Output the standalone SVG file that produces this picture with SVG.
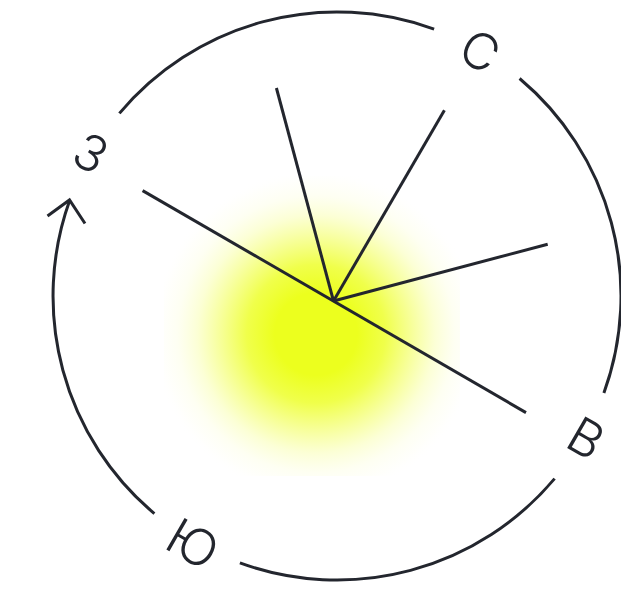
<svg xmlns="http://www.w3.org/2000/svg" width="621" height="592" viewBox="0 0 621 592">
  <style>
    .ln { fill: none; stroke: #23262e; stroke-width: 3; stroke-linecap: butt; stroke-linejoin: miter; }
    .lbl { font-family: Inter, "Liberation Sans", sans-serif; font-weight: 300; font-size: 50px; fill: #23262e; text-anchor: middle; }
  </style>
  <defs>
    <radialGradient id="glow" gradientUnits="userSpaceOnUse" cx="316" cy="334" r="165">
      <stop offset="0" stop-color="#ECFF1E" stop-opacity="1"/>
      <stop offset="0.25" stop-color="#ECFF1E" stop-opacity="1"/>
      <stop offset="0.42" stop-color="#ECFF1E" stop-opacity="0.8"/>
      <stop offset="0.57" stop-color="#EEFF2A" stop-opacity="0.5"/>
      <stop offset="0.72" stop-color="#F0FF40" stop-opacity="0.22"/>
      <stop offset="0.84" stop-color="#F2FF60" stop-opacity="0.08"/>
      <stop offset="0.93" stop-color="#F5FF80" stop-opacity="0.03"/>
      <stop offset="1" stop-color="#FFFFFF" stop-opacity="0"/>
    </radialGradient>
  </defs>
  <rect width="621" height="592" fill="#FFFFFF"/>
  <g id="glow-spot">
    <rect x="164" y="176" width="296" height="300" fill="url(#glow)"/>
  </g>
  <g id="connectors">
    <path class="ln" d="M119.4 113.4 A284 284 0 0 1 434.1 29.1"/>
    <path class="ln" d="M519.6 78.5 A284 284 0 0 1 603.9 393.1"/>
    <path class="ln" d="M554.6 478.6 A284 284 0 0 1 239.9 562.9"/>
    <path class="ln" d="M154.4 513.6 A284 284 0 0 1 69.8 200"/>
    <polyline class="ln" points="47.5,216 69.5,200 85,223.5"/>
  </g>
  <g id="rays">
    <line class="ln" x1="142.6" y1="190.6" x2="526" y2="412.6"/>
    <line class="ln" x1="333.5" y1="301" x2="276.4" y2="88"/>
    <line class="ln" x1="333.5" y1="301" x2="444.4" y2="110.2"/>
    <line class="ln" x1="333.5" y1="301" x2="547.7" y2="244.2"/>
  </g>
  <g id="label-north" transform="translate(480 51) rotate(30)">
    <text class="lbl" x="0" y="18">С</text>
  </g>
  <g id="label-east" transform="translate(586 438) rotate(30)">
    <text class="lbl" x="0" y="18">В</text>
  </g>
  <g id="label-south" transform="translate(193 544) rotate(30)">
    <text class="lbl" x="0" y="18">Ю</text>
  </g>
  <g id="label-west" transform="translate(91 153) rotate(30)">
    <text class="lbl" x="0" y="18">З</text>
  </g>
</svg>
